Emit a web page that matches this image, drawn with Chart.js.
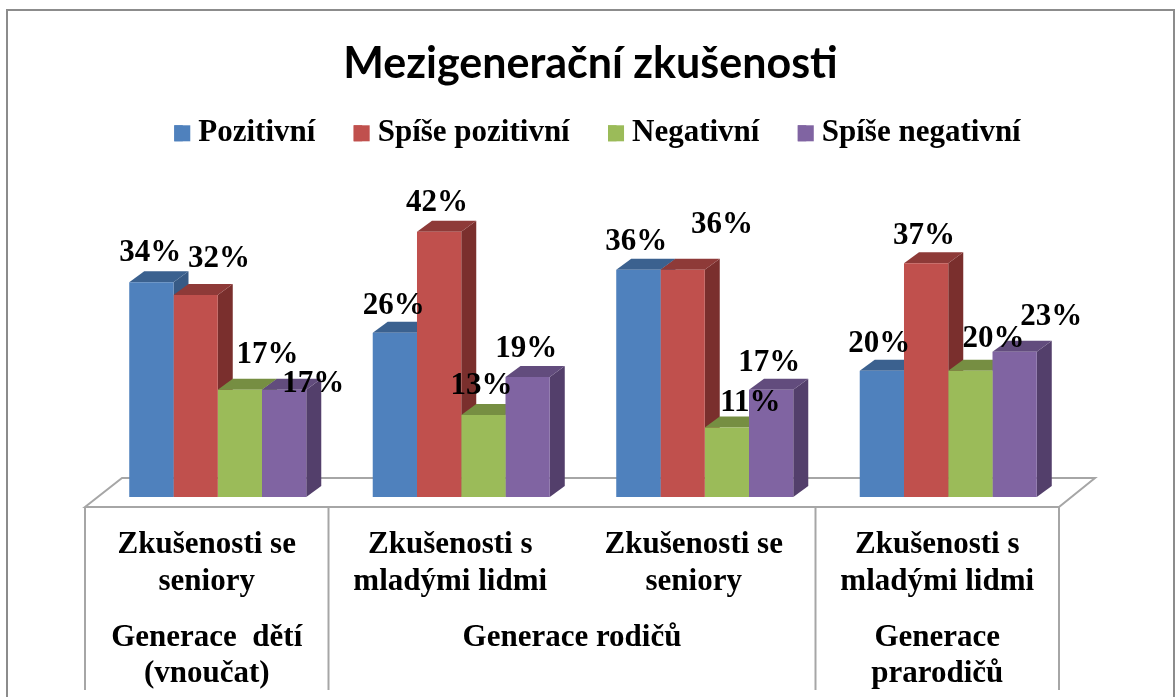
<!DOCTYPE html>
<html lang="cs"><head><meta charset="utf-8">
<style>html,body{margin:0;padding:0;background:#fff}canvas{display:block}</style>
<script src="https://cdn.jsdelivr.net/npm/chart.js@4/dist/chart.umd.min.js"></script>
</head><body><canvas id="c" width="1175" height="697"></canvas>
<script>
const chartTitle = "Mezigenerační zkušenosti";
const categories = [["Zkušenosti se","seniory"],["Zkušenosti s","mladými lidmi"],["Zkušenosti se","seniory"],["Zkušenosti s","mladými lidmi"]];
const groupLabels = [["Generace  dětí","(vnoučat)"],["Generace rodičů"],["Generace","prarodičů"]];
const groupSpans = [1,2,1];
const seriesNames = ["Pozitivní","Spíše pozitivní","Negativní","Spíše negativní"];
const pozitivni = [34,26,36,20];
const spisePozitivni = [32,42,36,37];
const negativni = [17,13,11,20];
const spiseNegativni = [17,19,17,23];

const frontColors = ["#4F81BD","#C0504D","#9BBB59","#8064A2"];
const topColors   = ["#3B618F","#8E3A38","#768E42","#624C7D"];
const sideColors  = ["#375A85","#7A2F2D","#667B39","#533F6B"];
// label offset from the bar's top-centre, per series then category
const labelOffsets = [
 [[-1,-29],[-1,-27],[-2,-28],[-2.5,-27]],
 [[23.5,-36],[-2,-29],[39.5,-45],[-2,-27]],
 [[27.5,-35],[-2,-29],[23.5,-25],[23,-32]],
 [[29,-6],[-1.5,-28],[-2,-27],[36.5,-35]]
];
const serif = "'Liberation Serif'";
const DX=15, DY=11, TABLE_SHIFT=11;

const scene3d = {
  id:'scene3d',
  afterLayout(chart){ chart.titleBlock.left-=7; chart.titleBlock.right-=7; },
  beforeDraw(chart){
    const c=chart.ctx; c.save();
    c.strokeStyle='#8C8C8C'; c.lineWidth=2;
    c.beginPath(); c.moveTo(7,697); c.lineTo(7,10); c.lineTo(1174,10); c.lineTo(1174,697); c.stroke();
    c.restore();
  },
  beforeDatasetsDraw(chart){
    const c=chart.ctx, a=chart.chartArea, b=a.bottom;
    c.save();
    c.strokeStyle='#A6A6A6'; c.lineWidth=2; c.lineJoin='miter';
    c.beginPath();
    c.moveTo(a.left-TABLE_SHIFT,b+10); c.lineTo(a.left+26,b-19); c.lineTo(a.right+25,b-19);
    c.lineTo(a.right-TABLE_SHIFT,b+10); c.closePath(); c.stroke();
    const n=chart.data.labels.length;
    for(let i=0;i<n;i++){
      for(let d=0;d<chart.data.datasets.length;d++){
        const e=chart.getDatasetMeta(d).data[i], l=e.x-e.width/2, r=e.x+e.width/2, t=e.y, bs=e.base;
        c.fillStyle=sideColors[d];
        c.beginPath(); c.moveTo(r,t); c.lineTo(r+DX,t-DY); c.lineTo(r+DX,bs-DY); c.lineTo(r,bs); c.closePath(); c.fill();
        c.fillStyle=topColors[d];
        c.beginPath(); c.moveTo(l,t); c.lineTo(l+DX,t-DY); c.lineTo(r+DX,t-DY); c.lineTo(r,t); c.closePath(); c.fill();
      }
    }
    c.restore();
  },
  afterDatasetsDraw(chart){
    const c=chart.ctx, a=chart.chartArea, x=chart.scales.x;
    c.save();
    // value labels
    c.fillStyle='#000'; c.font='bold 31px '+serif; c.textAlign='center'; c.textBaseline='middle';
    chart.data.datasets.forEach((ds,d)=>{
      chart.getDatasetMeta(d).data.forEach((e,i)=>{
        const o=labelOffsets[d][i];
        c.fillText(ds.data[i]+'%', e.x+o[0], e.y+o[1]);
      });
    });
    // table lines and group labels
    const cat=(x.getPixelForValue(1)-x.getPixelForValue(0));
    c.strokeStyle='#A6A6A6'; c.lineWidth=2;
    let start=0; const edge=k=>x.getPixelForValue(0)-cat/2+k*cat-TABLE_SHIFT;
    const vline=px=>{c.beginPath();c.moveTo(px,a.bottom+10);c.lineTo(px,690);c.stroke();};
    vline(edge(0));
    c.font='bold 31px '+serif;
    groupSpans.forEach((s,g)=>{
      const end=start+s; vline(edge(end));
      const cx=(edge(start)+edge(end))/2;
      groupLabels[g].forEach((t,li)=>c.fillText(t,cx,638+li*36));
      start=end;
    });
    // legend swatches are square
    const lg=chart.legend;
    lg.legendHitBoxes.forEach((h,i)=>{
      c.fillStyle=frontColors[i];
      c.fillRect(h.left,h.top+(h.height-16)/2,16,16);
    });
    c.restore();
  }
};

new Chart(document.getElementById('c'),{
  type:'bar',
  data:{labels:categories,datasets:[pozitivni,spisePozitivni,negativni,spiseNegativni].map((v,i)=>({
    label:seriesNames[i],data:v,backgroundColor:frontColors[i],borderWidth:0,
    categoryPercentage:0.727,barPercentage:1
  }))},
  options:{
    responsive:false,animation:false,
    layout:{padding:{left:20,right:0,top:0,bottom:0}},
    plugins:{
      tooltip:{enabled:false},
      title:{display:true,text:chartTitle,color:'#000',font:{family:"Lato",size:43,weight:'bold',lineHeight:1.1},padding:{top:40.5,bottom:-8.3}},
      legend:{display:true,position:'top',onClick:null,labels:{color:'#000',font:{family:serif,size:31,weight:'bold'},boxWidth:8.5,boxHeight:16,padding:38.3}}
    },
    scales:{
      x:{grid:{display:false},border:{display:false},
         ticks:{color:'#000',font:{family:serif,size:31,weight:'bold',lineHeight:1.2},padding:21,labelOffset:-TABLE_SHIFT,autoSkip:false,maxRotation:0,minRotation:0},
         afterFit(s){s.height=200;}},
      y:{min:0,max:53.55,grid:{display:false},border:{display:false},ticks:{display:false},afterFit(s){s.width=76;}},
      yr:{position:'right',min:0,max:53.55,grid:{display:false},border:{display:false},ticks:{display:false},afterFit(s){s.width=105;}}
    }
  },
  plugins:[scene3d]
});
</script></body></html>
